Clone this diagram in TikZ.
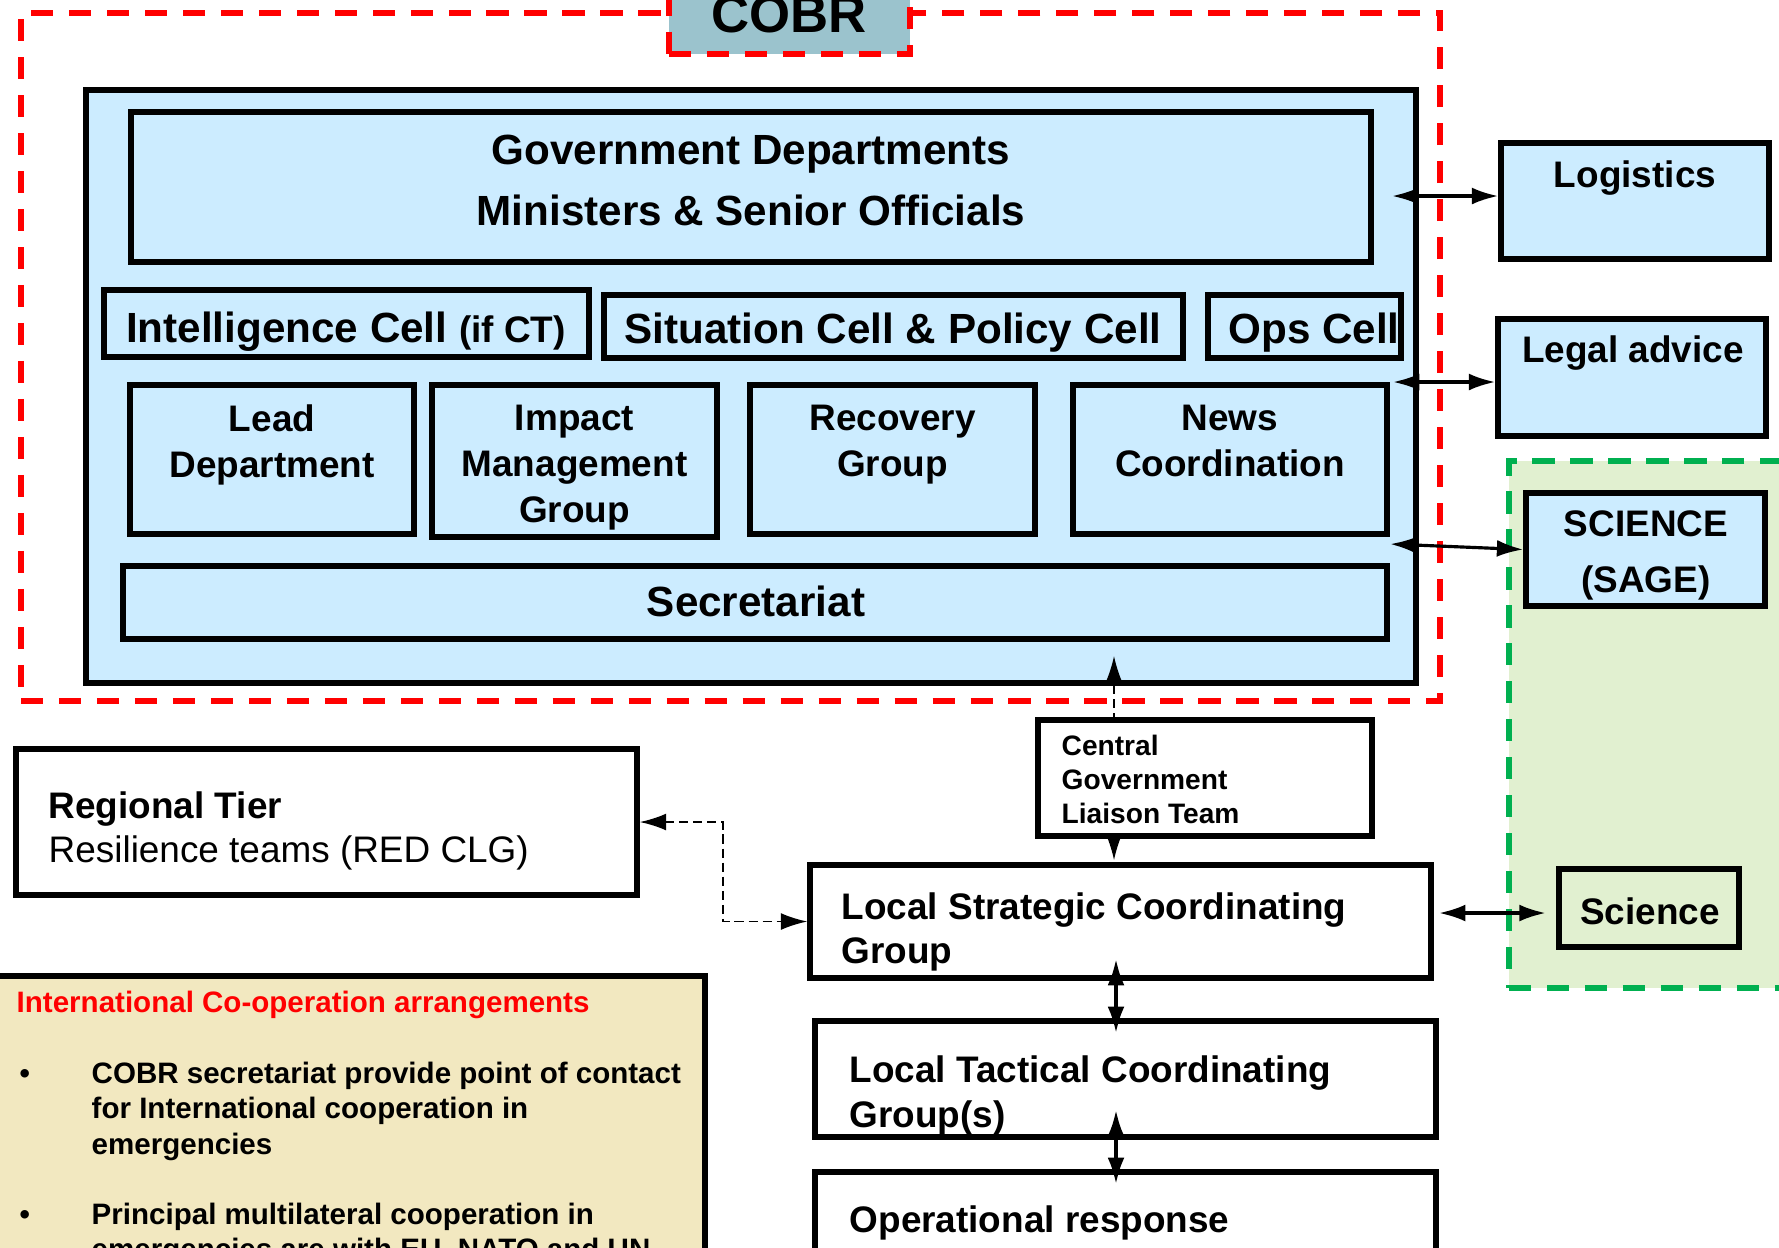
\documentclass[tikz,border=0pt]{standalone}
\usepackage{fontspec}
\setmainfont{Liberation Sans}
\usetikzlibrary{arrows.meta,fit,positioning}

\definecolor{cellblue}{HTML}{CCECFF}
\definecolor{cobrgrey}{HTML}{9BC3CD}
\definecolor{sagegreen}{HTML}{E1F0D0}
\definecolor{dashgreen}{HTML}{00B050}
\definecolor{intlbeige}{HTML}{F2E8C0}

\begin{document}
\begin{tikzpicture}[x=0.01cm,y=-0.01cm,
    >={Latex[length=7.5pt,width=4.8pt]},
    box/.style={draw,line width=1.55pt,inner sep=0pt},
    cell/.style={box,fill=cellblue},
    plain/.style={box,fill=white},
    longdash/.style={line width=1.6pt,dash pattern=on 6.3pt off 4.5pt,inner sep=0pt},
    reddash/.style={longdash,draw=red},
    txt/.style={inner sep=0pt,align=center,font=\bfseries\fontsize{10.5}{13.1}\selectfont},
    txtl/.style={inner sep=0pt,align=left,anchor=north west},
    big/.style={font=\bfseries\fontsize{12}{17.4}\selectfont},
    link/.style={<->,line width=0.9pt},
    dlink/.style={<->,line width=0.55pt,dash pattern=on 2.6pt off 1.4pt}]
  \useasboundingbox (0,0) rectangle (1779,1247);

  % COBR
  \node[reddash,fit={(21,13) (1440,701)}] (frame) {};
  \node[cell,fit={(86,90) (1416,683)}] (cobr) {};
  \node[reddash,fill=cobrgrey,fit={(669,-20) (910,54)}] (cobrlbl) {};
  \node[anchor=base,inner sep=0pt,font=\bfseries\fontsize{15}{18}\selectfont] (cobrtxt) at (789,32) {COBR};

  % celule
  \node[cell,fit={(131,112) (1371,262)}] (govt) {};
  \node[txt,big,anchor=north] (govttxt) at (751,134)
    {Government Departments\\Ministers \& Senior Officials};
  \node[cell,fit={(104,290) (589,357)}] (intel) {};
  \node[txt,big,anchor=base] (intel-t) at (346,342)
    {Intelligence Cell {\fontsize{10.5}{12}\selectfont(if CT)}};
  \node[cell,fit={(604,295) (1183,358)}] (situation) {};
  \node[txt,big,anchor=base] (situation-t) at (893,343) {Situation Cell \& Policy Cell};
  \node[cell,fit={(1208,295) (1401,358)}] (ops) {};
  \node[txt,big,anchor=base] (ops-t) at (1314,343) {Ops Cell};
  \foreach \nm/\xa/\xb/\yb/\lbl in {lead/130/414/534/{Lead\\Department},
      impact/432/717/537/{Impact\\Management\\Group},
      recovery/750/1035/534/{Recovery\\Group},
      news/1073/1387/534/{News\\Coordination}}
  {
    \node[cell,fit={(\xa,385) (\xb,\yb)}] (\nm) {};
    \node[txt,anchor=north] (\nm-t) at ({(\xa+\xb)/2},404) {\lbl};
  }
  \node[cell,fit={(123,566) (1387,639)}] (secretariat) {};
  \node[txt,big,anchor=base] (secretariat-t) at (756,616) {Secretariat};

  % sprijin
  \node[cell,fit={(1501,143) (1769,259)}] (logistics) {};
  \node[txt,anchor=base] (logistics-t) at (1635,187) {Logistics};
  \node[cell,fit={(1498,319) (1766,436)}] (legal) {};
  \node[txt,anchor=base] (legal-t) at (1633,362) {Legal advice};
  \node[longdash,fill=sagegreen,draw=dashgreen,fit={(1509,461) (1800,988)}] (science-area) {};
  \node[cell,fit={(1526,493) (1765,606)}] (sage) {};
  \node[txt,anchor=north,font=\bfseries\fontsize{10.5}{15.9}\selectfont] (sage-t)
    at (1646,510) {SCIENCE\\(SAGE)};
  \node[box,fill=sagegreen,fit={(1559,869) (1739,947)}] (science) {};
  \node[txt,anchor=base] (science-t) at (1650,924) {Science};

  % nivel local
  \node[plain,fit={(16,749) (637,895)}] (regional) {};
  \node[txtl,font=\fontsize{10.5}{12.5}\selectfont] (regional-t) at (48,791)
    {\textbf{Regional Tier}\\Resilience teams (RED CLG)};
  \node[plain,fit={(810,865) (1431,978)}] (lscg) {};
  \node[txtl,font=\bfseries\fontsize{10.5}{12.5}\selectfont] (lscg-t) at (841,892)
    {Local Strategic Coordinating\\Group};
  \node[plain,fit={(815,1021) (1436,1137)}] (ltcg) {};
  \node[txtl,font=\bfseries\fontsize{10.5}{12.8}\selectfont] (ltcg-t) at (849,1055)
    {Local Tactical Coordinating\\Group(s)};
  \node[plain,fit={(815,1172) (1436,1290)}] (response) {};
  \node[txt,anchor=base west] (response-t) at (849,1232) {Operational response};

  % cooperare internationala
  \node[box,fill=intlbeige,fit={(-10,976) (705,1290)}] (intl) {};
  \node[anchor=base west,inner sep=0pt,text=red,font=\bfseries\fontsize{8.4}{10.1}\selectfont]
    (intl-t) at (16,1012) {International Co-operation arrangements};
  \node[anchor=base west,inner sep=0pt,font=\bfseries\fontsize{8.4}{10.1}\selectfont]
    (bullet1) at (19,1083) {•};
  \node[txtl,font=\bfseries\fontsize{8.4}{10.1}\selectfont] (item1) at (91,1061)
    {COBR secretariat provide point of contact\\for International cooperation in\\emergencies};
  \node[anchor=base west,inner sep=0pt,font=\bfseries\fontsize{8.4}{10.1}\selectfont]
    (bullet2) at (19,1224) {•};
  \node[txtl,font=\bfseries\fontsize{8.4}{10.1}\selectfont] (item2) at (91,1202)
    {Principal multilateral cooperation in\\emergencies are with EU, NATO and UN};

  % legaturi
  \coordinate (liaison-up) at (1114,656);
  \coordinate (liaison-dn) at (1114,860);
  \draw[dlink,line width=0.4pt] (liaison-dn) -- (liaison-up);
  \node[plain,fit={(1038,720) (1372,836)}] (liaison) {};
  \node[txtl,font=\bfseries\fontsize{8}{9.7}\selectfont] (liaison-t) at (1061,734)
    {Central\\Government\\Liaison Team};

  \coordinate (logistics-in) at (1392,196);
  \coordinate (legal-in) at (1393,382);
  \coordinate (sage-in) at (1390,544);
  \coordinate (science-in) at (1439,913);
  \draw[link] (logistics-in) -- (logistics.west |- logistics-in);
  \draw[link] (legal-in) -- (legal.west |- legal-in);
  \draw[link] (sage-in) -- (sage.west);
  \draw[link,shorten >=3pt] (science-in) -- (science.west |- science-in);

  \coordinate (knee) at (723,870);
  \draw[dlink] (regional.east) -| (knee) |- (lscg.west);

  \coordinate (lscg-in) at (1116,959);
  \coordinate (ltcg-top) at (1116,1033);
  \coordinate (ltcg-in) at (1116,1110);
  \coordinate (response-in) at (1116,1184);
  \draw[link,line width=1pt] (lscg-in) -- (ltcg-top);
  \draw[link,line width=1pt] (ltcg-in) -- (response-in);
\end{tikzpicture}
\end{document}
